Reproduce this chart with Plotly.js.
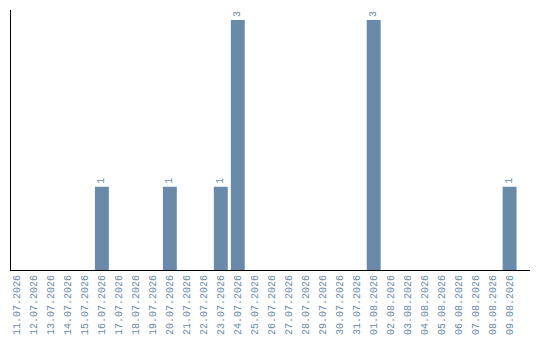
<!DOCTYPE html>
<html>
<head>
<meta charset="utf-8">
<script src="https://cdn.plot.ly/plotly-3.0.1.min.js"></script>
<style>
  html, body { margin: 0; padding: 0; background: #fff; }
  #chart { width: 540px; height: 340px; }
</style>
</head>
<body>
<div id="chart"></div>
<script>
// Daily counts, 11.07.2026 – 09.08.2026
const days = [
  "11.07.2026", "12.07.2026", "13.07.2026", "14.07.2026", "15.07.2026",
  "16.07.2026", "17.07.2026", "18.07.2026", "19.07.2026", "20.07.2026",
  "21.07.2026", "22.07.2026", "23.07.2026", "24.07.2026", "25.07.2026",
  "26.07.2026", "27.07.2026", "28.07.2026", "29.07.2026", "30.07.2026",
  "31.07.2026", "01.08.2026", "02.08.2026", "03.08.2026", "04.08.2026",
  "05.08.2026", "06.08.2026", "07.08.2026", "08.08.2026", "09.08.2026"
];
const counts = [
  0, 0, 0, 0, 0,
  1, 0, 0, 0, 1,
  0, 0, 1, 3, 0,
  0, 0, 0, 0, 0,
  0, 3, 0, 0, 0,
  0, 0, 0, 0, 1
];

const barColor = "#6a8aaa";
const tickFont = { family: "Liberation Mono, monospace", size: 10, color: barColor };
const valueFont = { family: "Liberation Mono, monospace", size: 10, color: barColor };

const trace = {
  type: "bar",
  x: days,
  y: counts,
  text: counts.map(v => (v > 0 ? String(v) : "")),
  textposition: "outside",
  textangle: -90,
  textfont: valueFont,
  cliponaxis: false,
  width: 0.82,
  marker: { color: barColor, line: { width: 0 } },
  hoverinfo: "x+y"
};

const layout = {
  width: 540,
  height: 340,
  margin: { l: 11, r: 10, t: 10, b: 70, pad: 0 },
  paper_bgcolor: "#ffffff",
  plot_bgcolor: "#ffffff",
  showlegend: false,
  xaxis: {
    type: "category",
    range: [-0.35, 30.2],
    tickangle: -90,
    tickfont: tickFont,
    showline: true,
    linecolor: "#000000",
    linewidth: 1,
    showgrid: false,
    zeroline: false,
    ticks: "",
    ticklen: 0,
    fixedrange: true
  },
  yaxis: {
    range: [0, 3.12],
    showline: true,
    linecolor: "#000000",
    linewidth: 1,
    showgrid: false,
    zeroline: false,
    showticklabels: false,
    ticks: "",
    fixedrange: true
  }
};

Plotly.newPlot("chart", [trace], layout, { displayModeBar: false, staticPlot: true });
</script>
</body>
</html>
